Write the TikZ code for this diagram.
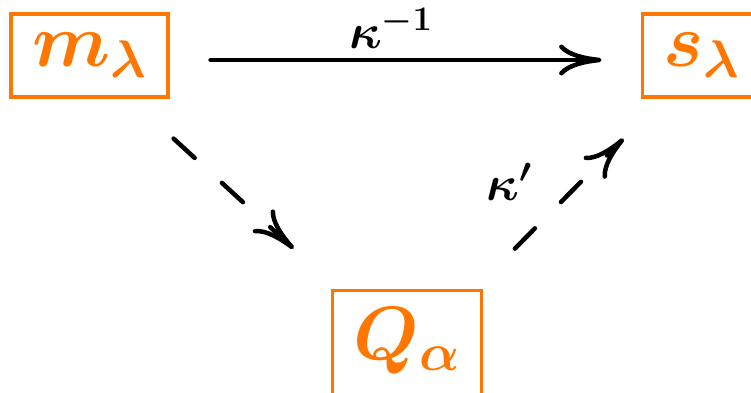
\RequirePackage{fix-cm}
\documentclass[tikz,border=0pt]{standalone}
\usepackage{amsmath}
\usepackage{bm}
\usepackage{xcolor}
\usetikzlibrary{arrows.meta,positioning}
\definecolor{basisorange}{RGB}{255,119,0}
\tikzset{
  basisarr/.style={-{To[length=0.85cm,width=0.62cm]}, line width=0.09cm, line cap=round},
  basisnode/.style={draw=basisorange, text=basisorange, line width=0.065cm, align=center, inner sep=0pt},
  basislabel/.style={font=\fontsize{28}{33}\selectfont, inner sep=0.08cm},
}
\begin{document}
\begin{tikzpicture}[
  basis/.style={basisnode, minimum width=3.14cm, minimum height=1.66cm, font=\fontsize{43}{51}\selectfont},
  dasharr/.style={basisarr, dash pattern=on 0.57cm off 0.74cm},
]
  \useasboundingbox (0,0) rectangle (15.02,7.84);
  \node[basis] (m) at (1.79,6.73) {$\bm{m_\lambda}$};
  \node[basis, minimum width=2.38cm, right=9.42cm of m] (s) {$\bm{s_\lambda}$};
  \node[basis, minimum width=2.98cm, minimum height=0pt, inner ysep=0.34cm, text depth=0.5cm,
        below right=3.8cm and 3.22cm of m] (Q) {$\bm{Q_\alpha}$};
  % horizontal map
  \draw[basisarr, shorten <=0.82cm, shorten >=0.78cm] ([yshift=-0.09cm]m.east) --
    node[basislabel, pos=0.47, above=0.1cm] {$\bm{\kappa^{-1}}$} ([yshift=-0.09cm]s.west);
  % through Q
  \draw[dasharr] ([shift={(0.08,-0.8)}]m.south east) -- ([shift={(-0.74,0.8)}]Q.north west);
  \draw[dasharr] ([shift={(0.64,0.8)}]Q.north east) --
    node[basislabel, pos=0.61, left=0.86cm] {$\bm{\kappa'}$} ([shift={(-0.34,-0.8)}]s.south west);
\end{tikzpicture}
\end{document}
